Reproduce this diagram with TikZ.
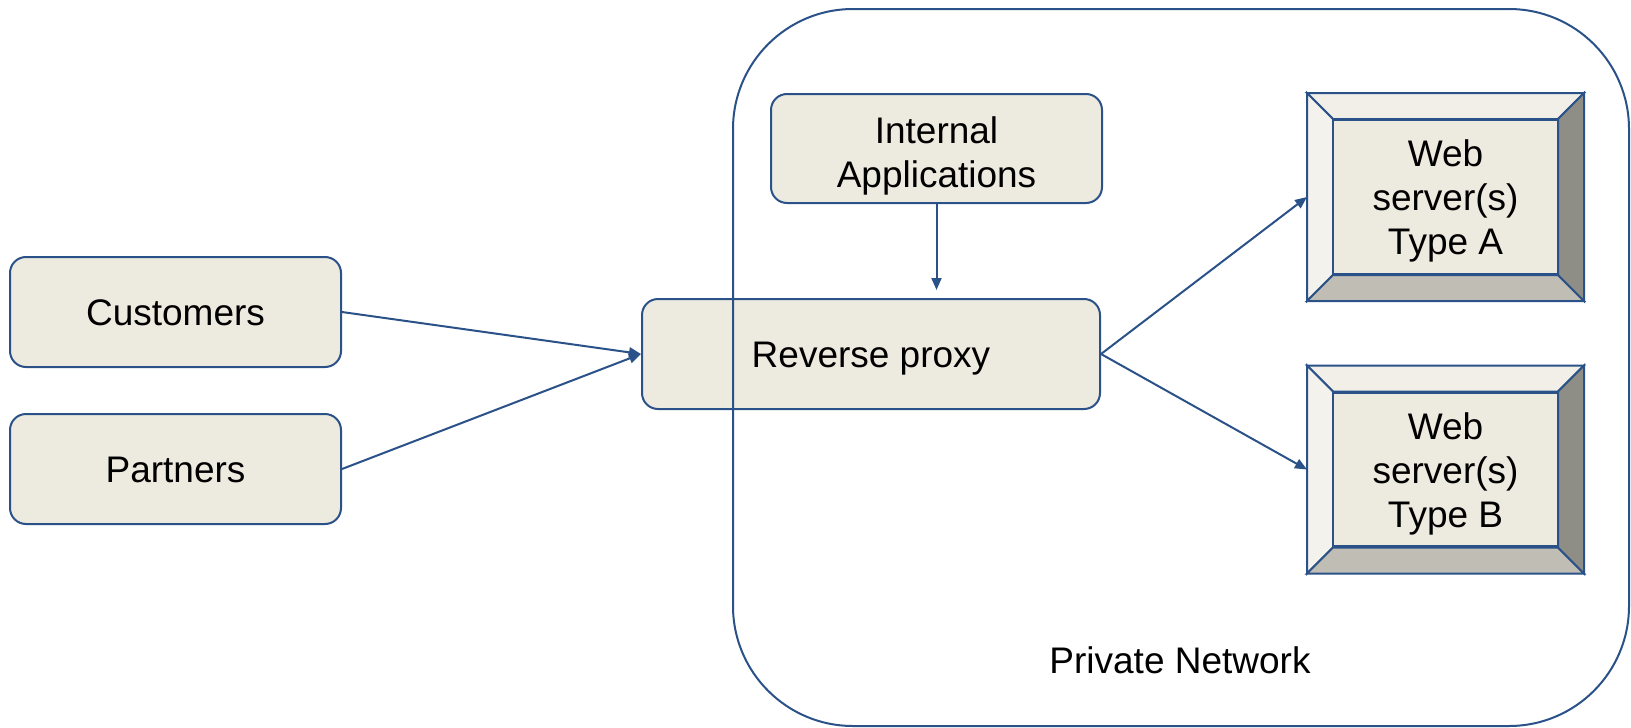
\documentclass[tikz,border=0pt]{standalone}
\usepackage{fontspec}
\setmainfont{Liberation Sans}
\usetikzlibrary{arrows.meta,calc}
\definecolor{edge}{HTML}{2A5288}
\definecolor{boxfill}{HTML}{EDEBE0}
\definecolor{bevtop}{HTML}{F1EFE8}
\definecolor{bevleft}{HTML}{F3F2EC}
\definecolor{bevbot}{HTML}{C0BDB4}
\definecolor{bevright}{HTML}{8E8D86}

% bevelled server frame around an anchor node #1 with bevel width #2
\newcommand\bevelframe[2]{%
  \coordinate (#1-inw) at ($(#1.north west)+(#2,#2)$);
  \coordinate (#1-ine) at ($(#1.north east)+(-#2,#2)$);
  \coordinate (#1-isw) at ($(#1.south west)+(#2,-#2)$);
  \coordinate (#1-ise) at ($(#1.south east)+(-#2,-#2)$);
  \filldraw[bevel, fill=bevtop] (#1.north west) -- (#1.north east) -- (#1-ine) -- (#1-inw) -- cycle;
  \filldraw[bevel, fill=bevleft] (#1.north west) -- (#1-inw) -- (#1-isw) -- (#1.south west) -- cycle;
  \filldraw[bevel, fill=bevbot] (#1.south west) -- (#1-isw) -- (#1-ise) -- (#1.south east) -- cycle;
  \filldraw[bevel, fill=bevright] (#1.north east) -- (#1.south east) -- (#1-ise) -- (#1-ine) -- cycle;
}

\begin{document}
\begin{tikzpicture}[x=1pt,y=-1pt,
  every node/.style={font=\fontsize{37}{44}\selectfont, text=black,
                     text height=26.5pt, text depth=0pt},
  two lines/.style={text height=77pt},
  three lines/.style={text height=115pt},
  box/.style={draw=edge, line width=2pt, fill=boxfill, rounded corners=16pt,
              inner sep=0pt, align=center},
  frame/.style={line width=2pt, minimum width=275pt, minimum height=206pt, inner sep=0pt},
  bevel/.style={draw=edge, line width=2pt, line join=miter},
  inner/.style={draw=edge, line width=1.6pt, fill=boxfill, minimum width=224pt,
                minimum height=153pt, inner sep=0pt, align=center},
  link/.style={draw=edge, line width=2pt, -{Triangle[length=12pt,width=10pt]}},
]
\useasboundingbox (0,0) rectangle (1631,728);

% clients and proxy
\node[box, minimum width=331pt, minimum height=110pt] (cust) at (175.5,312) {Customers};
\node[box, minimum width=331pt, minimum height=110pt] (part) at (175.5,469) {Partners};
\node[box, minimum width=458pt, minimum height=110pt] (proxy) at (871,354) {Reverse proxy};
\node[box, two lines, minimum width=331pt, minimum height=109pt] (apps) at (936.5,148.5) {Internal\\Applications};

% private network boundary, drawn across the proxy
\draw[edge, line width=2pt, rounded corners=120pt] (733,9) rectangle (1629,726);
\node (pn) at (1180,660.5) {Private Network};

% web servers
\node[frame] (wsa) at (1445.5,197) {};
\bevelframe{wsa}{26}
\node[inner, three lines] (wsaIn) at (wsa) {Web\\server(s)\\Type A};

\node[frame] (wsb) at (1445.5,469.5) {};
\bevelframe{wsb}{26}
\node[inner, three lines] (wsbIn) at (wsb) {Web\\server(s)\\Type B};

% connectors
\draw[link] (cust.east) -- (proxy.west);
\draw[link] (part.east) -- (proxy.west);
\draw[link, shorten >=8pt] (apps.south) -- (apps.south |- proxy.north);
\draw[link] (proxy.east) -- (wsa.west);
\draw[link] (proxy.east) -- (wsb.west);
\end{tikzpicture}
\end{document}
